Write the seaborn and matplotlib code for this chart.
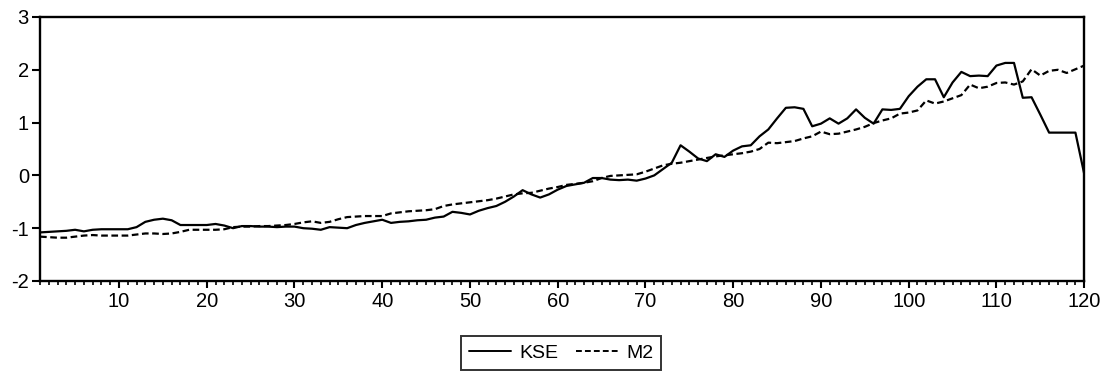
import numpy as np
import pandas as pd
import matplotlib
matplotlib.use("Agg")
import matplotlib.pyplot as plt
from matplotlib.ticker import MultipleLocator, FixedLocator
from matplotlib.lines import Line2D
import seaborn as sns

sns.set_theme(style="white")
plt.rcParams['font.family'] = ['Liberation Sans', 'DejaVu Sans']
plt.rcParams['axes.unicode_minus'] = False
plt.rcParams['text.color'] = 'black'

periods = list(range(1, 121))

kse = [
    -1.08, -1.07, -1.06, -1.05, -1.03, -1.06, -1.03, -1.02, -1.02, -1.02,
    -1.02, -0.98, -0.88, -0.84, -0.82, -0.85, -0.94, -0.94, -0.94, -0.94,
    -0.92, -0.95, -1.00, -0.96, -0.96, -0.97, -0.97, -0.98, -0.97, -0.97,
    -1.00, -1.01, -1.03, -0.98, -0.99, -1.00, -0.94, -0.90, -0.87, -0.84,
    -0.90, -0.88, -0.87, -0.85, -0.84, -0.80, -0.78, -0.69, -0.71, -0.74,
    -0.67, -0.62, -0.58, -0.50, -0.40, -0.28, -0.36, -0.42, -0.36, -0.27,
    -0.20, -0.17, -0.14, -0.05, -0.05, -0.08, -0.09, -0.08, -0.10, -0.06,
    0.00, 0.12, 0.24, 0.57, 0.45, 0.32, 0.27, 0.40, 0.35, 0.47,
    0.55, 0.57, 0.74, 0.87, 1.08, 1.28, 1.29, 1.26, 0.93, 0.98,
    1.08, 0.98, 1.08, 1.25, 1.09, 0.98, 1.25, 1.24, 1.26, 1.50,
    1.68, 1.82, 1.82, 1.48, 1.76, 1.96, 1.88, 1.89, 1.88, 2.08,
    2.13, 2.13, 1.47, 1.48, 1.15, 0.81, 0.81, 0.81, 0.81, 0.03,
]

m2 = [
    -1.16, -1.17, -1.18, -1.18, -1.16, -1.14, -1.13, -1.14, -1.14, -1.14,
    -1.14, -1.12, -1.10, -1.10, -1.11, -1.10, -1.07, -1.03, -1.03, -1.03,
    -1.03, -1.02, -0.98, -0.97, -0.97, -0.96, -0.96, -0.95, -0.94, -0.92,
    -0.89, -0.87, -0.90, -0.88, -0.83, -0.79, -0.78, -0.77, -0.77, -0.77,
    -0.72, -0.70, -0.68, -0.67, -0.66, -0.64, -0.58, -0.55, -0.53, -0.51,
    -0.49, -0.47, -0.44, -0.40, -0.36, -0.34, -0.33, -0.29, -0.25, -0.22,
    -0.18, -0.16, -0.14, -0.11, -0.05, -0.01, 0.00, 0.01, 0.02, 0.07,
    0.13, 0.19, 0.22, 0.24, 0.27, 0.30, 0.33, 0.36, 0.38, 0.40,
    0.42, 0.45, 0.50, 0.62, 0.61, 0.63, 0.65, 0.70, 0.74, 0.83,
    0.78, 0.79, 0.83, 0.87, 0.92, 0.99, 1.04, 1.08, 1.17, 1.19,
    1.23, 1.42, 1.36, 1.40, 1.46, 1.52, 1.72, 1.65, 1.68, 1.75,
    1.76, 1.72, 1.78, 2.01, 1.89, 1.98, 2.00, 1.94, 2.01, 2.08,
]

x_major = [10, 20, 30, 40, 50, 60, 70, 80, 90, 100, 110, 120]
y_major = [-2, -1, 0, 1, 2, 3]

df = pd.DataFrame({"t": periods, "KSE": kse, "M2": m2})
long = df.melt(id_vars="t", var_name="series", value_name="value")

fig = plt.figure(figsize=(11.12, 3.75), dpi=100)
ax = fig.add_axes([0.036, 0.2507, 0.939, 0.704])

sns.lineplot(data=long, x="t", y="value", style="series",
             dashes={"KSE": "", "M2": (3, 1.6)}, color="black",
             linewidth=1.6, ax=ax, legend=False)

ax.set_xlim(1, 120)
ax.set_ylim(-2, 3)
ax.xaxis.set_major_locator(FixedLocator(x_major))
ax.xaxis.set_minor_locator(MultipleLocator(1))
ax.yaxis.set_major_locator(FixedLocator(y_major))
ax.set_xlabel("")
ax.set_ylabel("")

for s in ax.spines.values():
    s.set_visible(True)
    s.set_color("black")
    s.set_linewidth(1.7)

ax.tick_params(axis="x", which="major", direction="out", length=5, width=1.5,
               colors="black", labelsize=14.5, pad=3, bottom=True)
ax.tick_params(axis="x", which="minor", direction="out", length=3, width=1.2,
               colors="black", bottom=True)
ax.tick_params(axis="y", which="major", direction="out", length=6, width=1.5,
               colors="black", labelsize=14.5, pad=2, left=True)
ax.grid(False)

handles = [Line2D([], [], color="black", lw=1.4),
           Line2D([], [], color="black", lw=1.4, dashes=(3, 1.6))]
leg = fig.legend(handles, ["KSE", "M2"], loc="center",
                 bbox_to_anchor=(561 / 1112, 1 - 353 / 375), ncol=2,
                 frameon=True, fancybox=False, edgecolor="black",
                 fontsize=14, handlelength=2.2, handletextpad=0.4,
                 columnspacing=0.9, borderpad=0.4, borderaxespad=0,
                 labelcolor="black")
leg.get_frame().set_linewidth(1.4)

fig.savefig("out.png", dpi=100, facecolor="white")
